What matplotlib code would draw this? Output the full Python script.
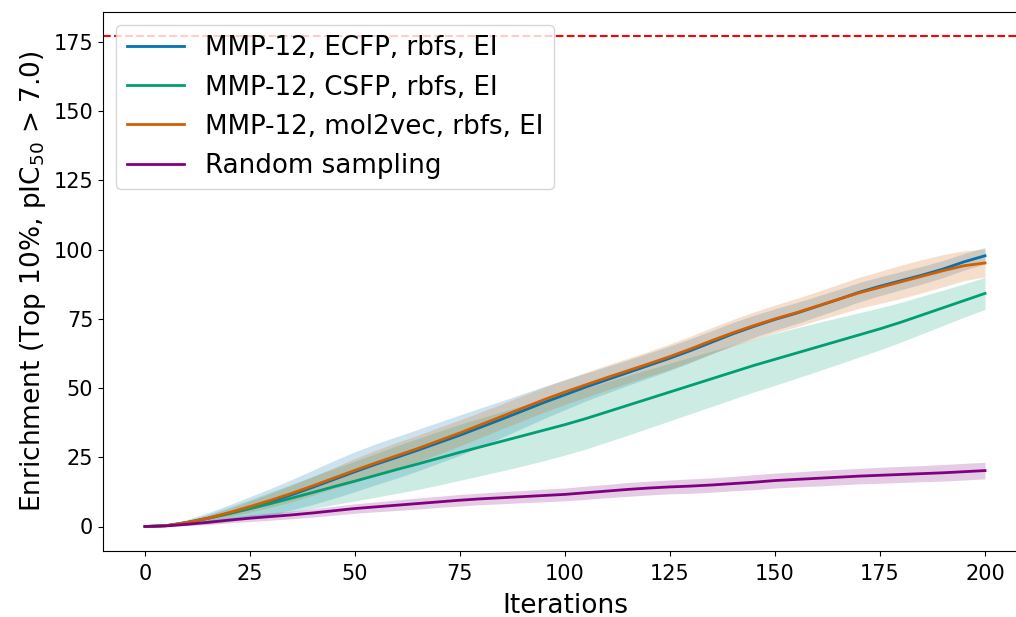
import numpy as np
import matplotlib
matplotlib.use('Agg')
import matplotlib.pyplot as plt

# Iteraciones (cada 5)
iters = list(range(0, 201, 5))

ecfp_mean = [0, 0.3, 1.5, 3.0, 4.8, 6.8, 9.0, 11.5, 14.2, 17.0, 19.8, 22.5, 25.0, 27.6,
             30.3, 33.0, 35.9, 38.8, 41.8, 44.8, 47.6, 50.4, 53.0, 55.6, 58.2, 60.8, 63.6,
             66.6, 69.6, 72.3, 74.8, 77.0, 79.5, 82.0, 84.6, 86.8, 88.8, 90.8, 93.0, 95.6, 97.8]
ecfp_std = [0, 0.3, 1.0, 2.0, 3.0, 4.0, 4.8, 5.5, 6.2, 6.8, 7.2, 7.4, 7.5, 7.5, 7.4, 7.3,
            7.0, 6.6, 6.2, 5.8, 5.4, 5.0, 4.8, 4.6, 4.5, 4.4, 4.3, 4.2, 4.1, 4.0, 3.9, 3.8,
            3.7, 3.6, 3.5, 3.4, 3.3, 3.2, 3.1, 3.0, 3.0]

csfp_mean = [0, 0.3, 1.4, 2.9, 4.6, 6.4, 8.3, 10.3, 12.3, 14.4, 16.4, 18.5, 20.6, 22.6,
             24.7, 26.8, 28.8, 30.8, 32.8, 34.8, 36.8, 39.0, 41.4, 43.8, 46.2, 48.6, 51.0,
             53.4, 55.8, 58.2, 60.4, 62.6, 64.8, 67.0, 69.2, 71.4, 73.8, 76.4, 79.0, 81.6, 84.2]
csfp_std = [0, 0.3, 0.8, 1.5, 2.4, 3.3, 4.2, 5.0, 5.8, 6.5, 7.2, 7.9, 8.6, 9.2, 9.7, 10.1,
            10.4, 10.7, 10.9, 11.0, 11.0, 11.0, 10.9, 10.8, 10.6, 10.4, 10.2, 10.0, 9.8, 9.6,
            9.4, 9.1, 8.8, 8.4, 8.0, 7.6, 7.2, 6.8, 6.4, 6.0, 5.8]

m2v_mean = [0, 0.3, 1.4, 3.0, 5.0, 7.2, 9.5, 12.0, 14.7, 17.5, 20.3, 23.0, 25.6, 28.2,
            31.0, 33.8, 36.8, 39.8, 42.8, 45.8, 48.6, 51.2, 53.8, 56.3, 58.8, 61.4, 64.2,
            67.2, 70.0, 72.6, 75.0, 77.2, 79.6, 82.0, 84.4, 86.4, 88.4, 90.4, 92.4, 94.2, 95.2]
m2v_std = [0, 0.2, 0.5, 1.0, 1.5, 2.0, 2.5, 3.0, 3.4, 3.8, 4.3, 4.6, 4.8, 4.8, 4.8, 4.7,
           4.6, 4.5, 4.5, 4.5, 4.5, 4.5, 4.5, 4.5, 4.5, 4.6, 4.6, 4.7, 4.8, 4.9, 5.0, 5.1,
           5.2, 5.4, 5.6, 5.8, 6.0, 6.0, 5.8, 5.4, 5.0]

rand_mean = [0, 0.2, 0.8, 1.5, 2.3, 3.0, 3.6, 4.2, 4.9, 5.7, 6.5, 7.1, 7.7, 8.3, 8.9, 9.5,
             10.0, 10.4, 10.8, 11.2, 11.6, 12.2, 12.8, 13.4, 13.9, 14.3, 14.6, 15.0, 15.5,
             16.0, 16.6, 17.0, 17.4, 17.8, 18.2, 18.5, 18.8, 19.1, 19.4, 19.8, 20.2]
rand_std = [0, 0.2, 0.5, 0.8, 1.0, 1.2, 1.3, 1.4, 1.5, 1.6, 1.7, 1.8, 1.9, 2.0, 2.0, 2.1,
            2.1, 2.2, 2.2, 2.3, 2.3, 2.4, 2.4, 2.5, 2.5, 2.5, 2.6, 2.6, 2.6, 2.7, 2.7, 2.7,
            2.8, 2.8, 2.8, 2.9, 2.9, 2.9, 3.0, 3.0, 3.0]

max_enrichment = 177

series = [
    ('MMP-12, ECFP, rbfs, EI', ecfp_mean, ecfp_std, '#0173B2'),
    ('MMP-12, CSFP, rbfs, EI', csfp_mean, csfp_std, '#029E73'),
    ('MMP-12, mol2vec, rbfs, EI', m2v_mean, m2v_std, '#D55E00'),
    ('Random sampling', rand_mean, rand_std, 'purple'),
]

fig = plt.figure(figsize=(10.16, 6.17), dpi=100)
ax = fig.add_axes([103 / 1016, 1 - 551 / 617, 924 / 1016, 539 / 617])

x = np.array(iters)
for label, mean, std, color in series:
    mean = np.array(mean)
    std = np.array(std)
    ax.plot(x, mean, color=color, lw=2, label=label)
    ax.fill_between(x, mean - std, mean + std, color=color, alpha=0.2, lw=0)

ax.axhline(max_enrichment, color='red', linestyle='--', lw=1.5)

ax.set_xlim(-10, 210)
ax.set_ylim(-8.85, 185.85)
ax.set_xticks([0, 25, 50, 75, 100, 125, 150, 175, 200])
ax.set_yticks([0, 25, 50, 75, 100, 125, 150, 175])
ax.tick_params(labelsize=15)
ax.tick_params(axis='x', pad=6)
ax.set_xlabel('Iterations', fontsize=19, labelpad=6)
ax.set_ylabel(r'Enrichment (Top 10%, pIC$_{50}$ > 7.0)', fontsize=19)
ax.legend(loc='upper left', fontsize=18.8, handlelength=2.2)

fig.savefig('out.png', dpi=100)
